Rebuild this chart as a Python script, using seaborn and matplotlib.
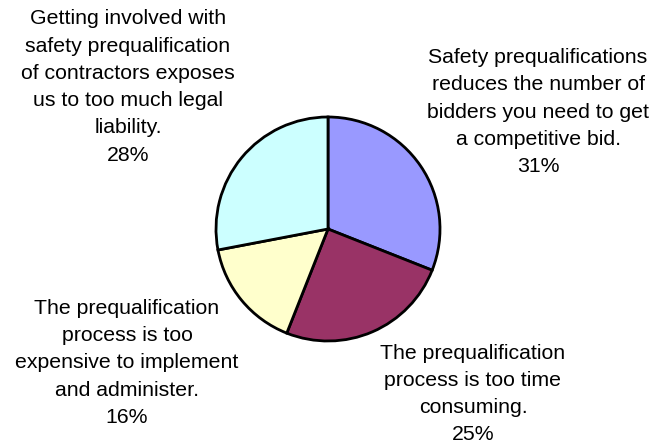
import matplotlib
matplotlib.use("Agg")
import matplotlib.pyplot as plt
import seaborn as sns

# slice data, clockwise from 12 o'clock
labels = [
    "Safety prequalifications\nreduces the number of\nbidders you need to get\na competitive bid.",
    "The prequalification\nprocess is too time\nconsuming.",
    "The prequalification\nprocess is too\nexpensive to implement\nand administer.",
    "Getting involved with\nsafety prequalification\nof contractors exposes\nus to too much legal\nliability.",
]
shares = [31, 25, 16, 28]
colors = ["#9999FF", "#993366", "#FFFFCC", "#CCFFFF"]

# label block centres (pixels, origin bottom-left)
label_pos = [(538, 333), (473, 51), (127, 82), (128, 358)]


def main():
    sns.set_theme(style="white")
    plt.rcParams["font.family"] = ["Liberation Sans", "DejaVu Sans"]

    fig = plt.figure(figsize=(6.52, 4.45), dpi=100)
    ax = fig.add_axes([0, 0, 1, 1])

    ax.pie(shares, colors=colors, startangle=90, counterclock=False,
           center=(328, 216), radius=112, frame=True,
           wedgeprops={"edgecolor": "black", "linewidth": 2})
    ax.set_xlim(0, 652)
    ax.set_ylim(0, 445)
    ax.axis("off")

    for lab, val, (x, y) in zip(labels, shares, label_pos):
        ax.text(x, y, f"{lab}\n{val}%", ha="center", va="center",
                fontsize=15.3, linespacing=1.55, color="black")

    fig.savefig("out.png", dpi=100)


if __name__ == "__main__":
    main()
